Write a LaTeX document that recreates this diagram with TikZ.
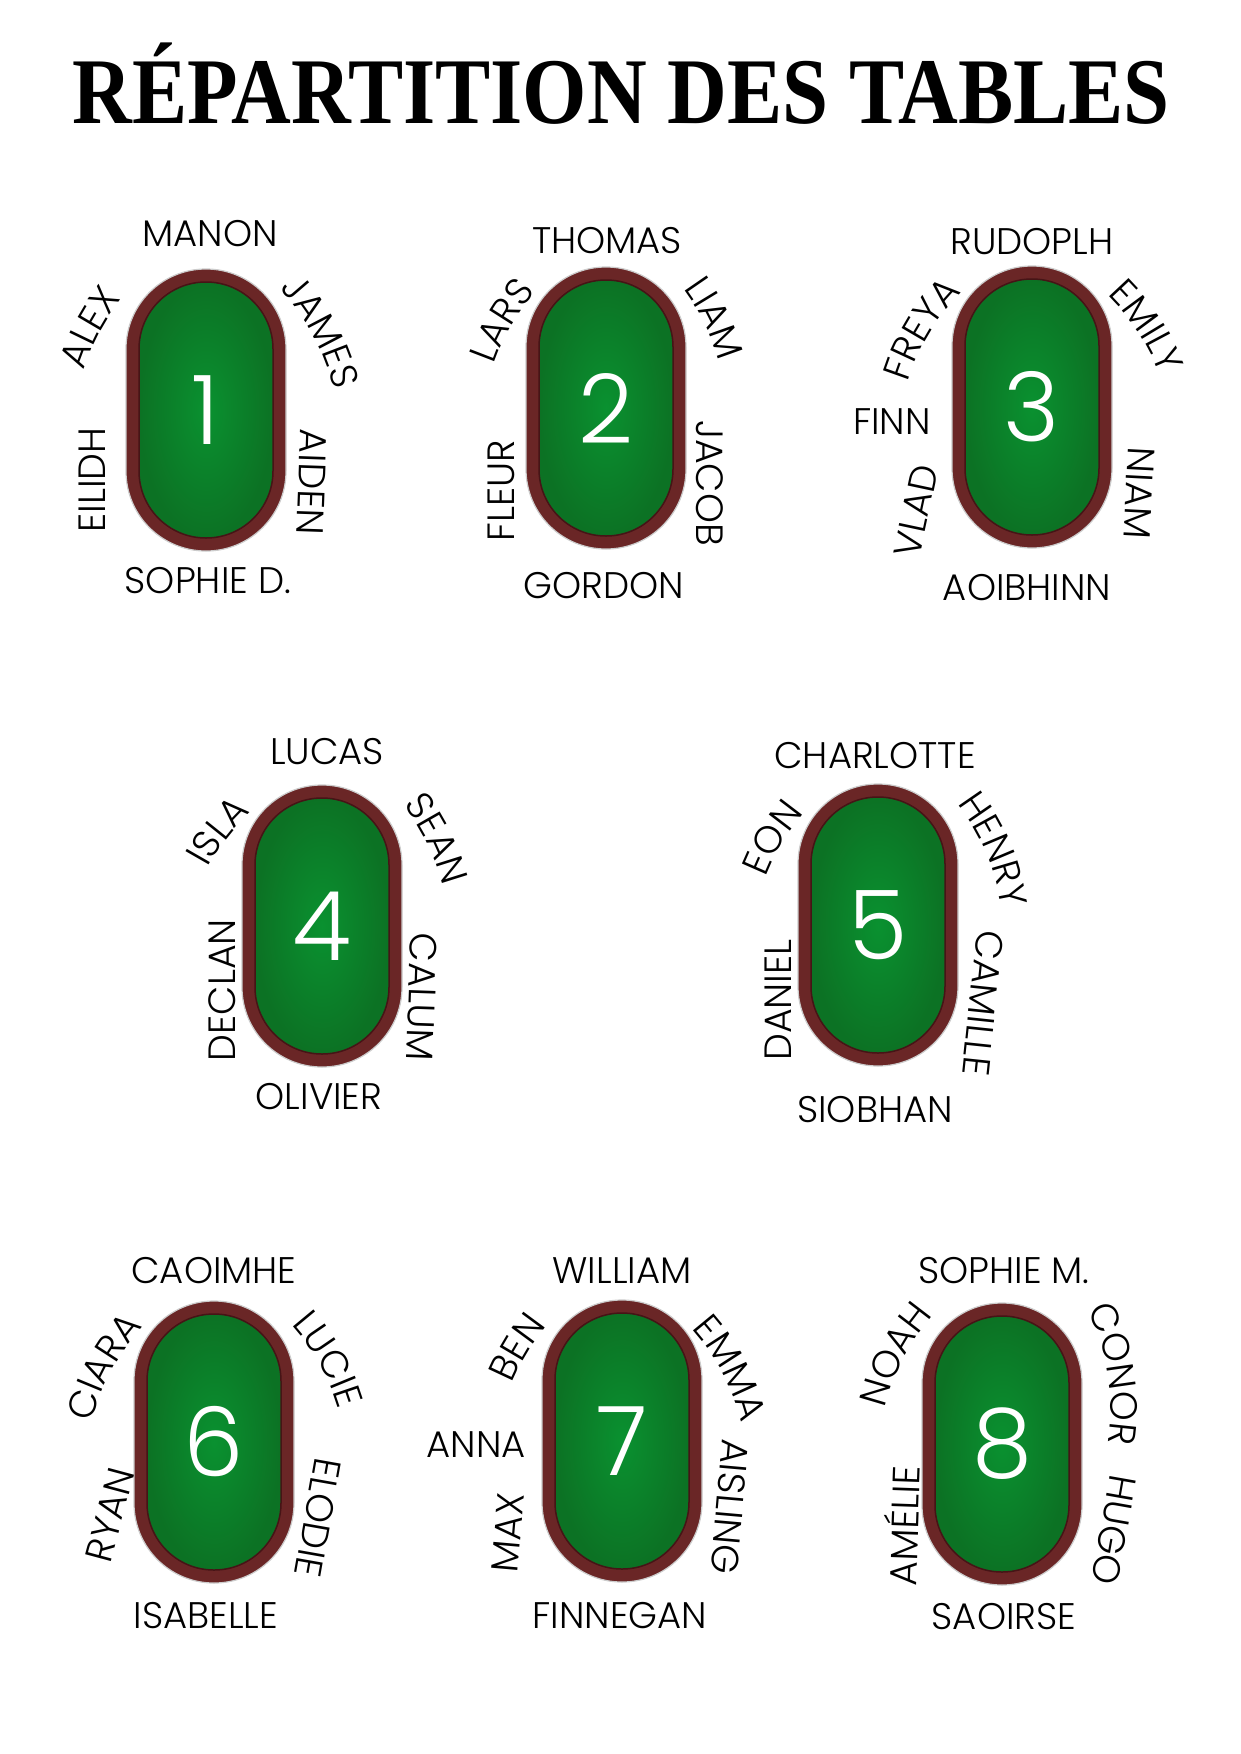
\documentclass[tikz,border=0pt]{standalone}
\usepackage{fontspec}
\usepackage{graphicx}
\usetikzlibrary{decorations.text}
\newfontfamily\pop{Poppins}[UprightFont={* Light}]
\newfontfamily\titlef{Liberation Serif}
\definecolor{wood}{RGB}{106,38,38}
\definecolor{wooddark}{RGB}{70,20,22}
\definecolor{feltc}{RGB}{10,145,48}
\definecolor{felte}{RGB}{12,114,36}
\newcommand\topfont{\pop\fontsize{37}{41}\selectfont}
\newcommand\sidefont{\pop\fontsize{38}{42}\selectfont}
\newcommand\numfont{\pop\fontsize{96}{100}\selectfont}
% curved name: x, y (text centre, local), tangent angle, baseline radius, text
\newcommand\ctext[5]{%
  \pgfmathsetmacro\cphi{#3+90}%
  \pgfmathsetmacro\cspan{min(80,12000/#4)}%
  \path (#1,#2) ++(\cphi+180:{#4+13}) coordinate (cc);
  \path[decorate,decoration={text along path,text align=center,text={|\sidefont|#5}}]
    ([shift={(\cphi+\cspan:#4)}]cc) arc[start angle=\cphi+\cspan,end angle=\cphi-\cspan,radius=#4];
}
\tikzset{
  woodrim/.style={draw=black!20, line width=1.2pt, fill=wood, minimum width=160pt, minimum height=282pt, rounded corners=79.9pt, inner sep=0pt},
  felt/.style={draw=wooddark, line width=1.5pt, inner color=feltc, outer color=felte, minimum width=134pt, minimum height=256pt, rounded corners=66.9pt, inner sep=0pt, text=white, font=\numfont},
  topname/.style={font=\topfont, inner sep=0pt},
  sidename/.style={font=\sidefont, inner sep=0pt},
}
\begin{document}
\begin{tikzpicture}[x=1pt,y=1pt]
\fill[white] (0,0) rectangle (1240,-1754);
\useasboundingbox (0,0) rectangle (1240,-1754);

\node[anchor=base, inner sep=0pt] (title) at (621,-123)
  {\titlef\bfseries\fontsize{94}{100}\selectfont\scalebox{0.88}[1]{RÉPARTITION DES TABLES}};

% Table 1
\begin{scope}[shift={(206,-410)}]
  \node[woodrim] (r1) at (0,0) {};
  \node[felt] (f1) at (0,0) {1};
  \node[topname] (n1a) at (4,176) {MANON};
  \node[topname] (n1b) at (2,-171) {SOPHIE D.};
  \ctext{-118}{83}{62}{220}{ALEX}
  \ctext{119}{80}{-62}{220}{JAMES}
  \node[sidename,rotate=90] (n1e) at (-114,-70) {EILIDH};
  \node[sidename,rotate=-92] (n1f) at (106,-72) {AIDEN};
\end{scope}

% Table 2
\begin{scope}[shift={(606,-408)}]
  \node[woodrim] (r2) at (0,0) {};
  \node[felt] (f2) at (0,0) {2};
  \node[topname] (n2a) at (1,167) {THOMAS};
  \node[topname] (n2b) at (-2,-178) {GORDON};
  \ctext{-106}{88}{60}{220}{LARS}
  \ctext{110}{90}{-64}{220}{LIAM}
  \node[sidename,rotate=90] (n2e) at (-105,-83) {FLEUR};
  \node[sidename,rotate=-90] (n2f) at (104,-75) {JACOB};
\end{scope}

% Table 3
\begin{scope}[shift={(1032,-407)}]
  \node[woodrim] (r3) at (0,0) {};
  \node[felt] (f3) at (0,0) {3};
  \node[topname] (n3a) at (0,165) {RUDOPLH};
  \node[topname] (n3b) at (-5,-181) {AOIBHINN};
  \ctext{-114}{80}{59}{220}{FREYA}
  \ctext{117}{82}{-57}{220}{EMILY}
  \node[topname] (n3c) at (-140,-15) {FINN};
  \node[sidename,rotate=78] (n3e) at (-116,-104) {VLAD};
  \node[sidename,rotate=-93] (n3f) at (107,-86) {NIAM};
\end{scope}

% Table 4
\begin{scope}[shift={(322,-926)}]
  \node[woodrim] (r4) at (0,0) {};
  \node[felt] (f4) at (0,0) {4};
  \node[topname] (n4a) at (5,174) {LUCAS};
  \node[topname] (n4b) at (-3,-171) {OLIVIER};
  \ctext{-105}{96}{52}{220}{ISLA}
  \ctext{117}{88}{-64}{220}{SEAN}
  \node[sidename,rotate=90] (n4e) at (-100,-64) {DECLAN};
  \node[sidename,rotate=-92] (n4f) at (100,-71) {CALUM};
\end{scope}

% Table 5
\begin{scope}[shift={(878,-925)}]
  \node[woodrim] (r5) at (0,0) {};
  \node[felt] (f5) at (0,0) {5};
  \node[topname] (n5a) at (-3,169) {CHARLOTTE};
  \node[topname] (n5b) at (-3,-185) {SIOBHAN};
  \ctext{-107}{88}{59}{220}{EON}
  \ctext{120}{77}{-67}{220}{HENRY}
  \node[sidename,rotate=90] (n5e) at (-100,-75) {DANIEL};
  \node[sidename,rotate=-96] (n5f) at (105,-78) {CAMILLE};
\end{scope}

% Table 6
\begin{scope}[shift={(214,-1442)}]
  \node[woodrim] (r6) at (0,0) {};
  \node[felt] (f6) at (0,0) {6};
  \node[topname] (n6a) at (0,171) {CAOIMHE};
  \node[topname] (n6b) at (-8,-174) {ISABELLE};
  \ctext{-114}{77}{62}{220}{CIARA}
  \ctext{117}{84}{-61}{220}{LUCIE}
  \node[sidename,rotate=75] (n6e) at (-104,-73) {RYAN};
  \node[sidename,rotate=-100] (n6f) at (104,-76) {ELODIE};
\end{scope}

% Table 7
\begin{scope}[shift={(622,-1441)}]
  \node[woodrim] (r7) at (0,0) {};
  \node[felt] (f7) at (0,0) {7};
  \node[topname] (n7a) at (0,170) {WILLIAM};
  \node[topname] (n7b) at (-2,-175) {FINNEGAN};
  \ctext{-106}{94}{59}{220}{BEN}
  \ctext{112}{74}{-62}{220}{EMMA}
  \node[topname] (n7c) at (-146,-4) {ANNA};
  \node[sidename,rotate=85] (n7e) at (-114,-92) {MAX};
  \node[sidename,rotate=-95] (n7f) at (108,-66) {AISLING};
\end{scope}

% Table 8
\begin{scope}[shift={(1002,-1444)}]
  \node[woodrim] (r8) at (0,0) {};
  \node[felt] (f8) at (0,0) {8};
  \node[topname] (n8a) at (2,173) {SOPHIE M.};
  \node[topname] (n8b) at (2,-173) {SAOIRSE};
  \ctext{-110}{91}{63}{220}{NOAH}
  \ctext{119}{71}{-81}{220}{CONOR}
  \node[sidename,rotate=88] (n8e) at (-101,-82) {AMÉLIE};
  \node[sidename,rotate=-100] (n8f) at (112,-86) {HUGO};
\end{scope}
\end{tikzpicture}
\end{document}
